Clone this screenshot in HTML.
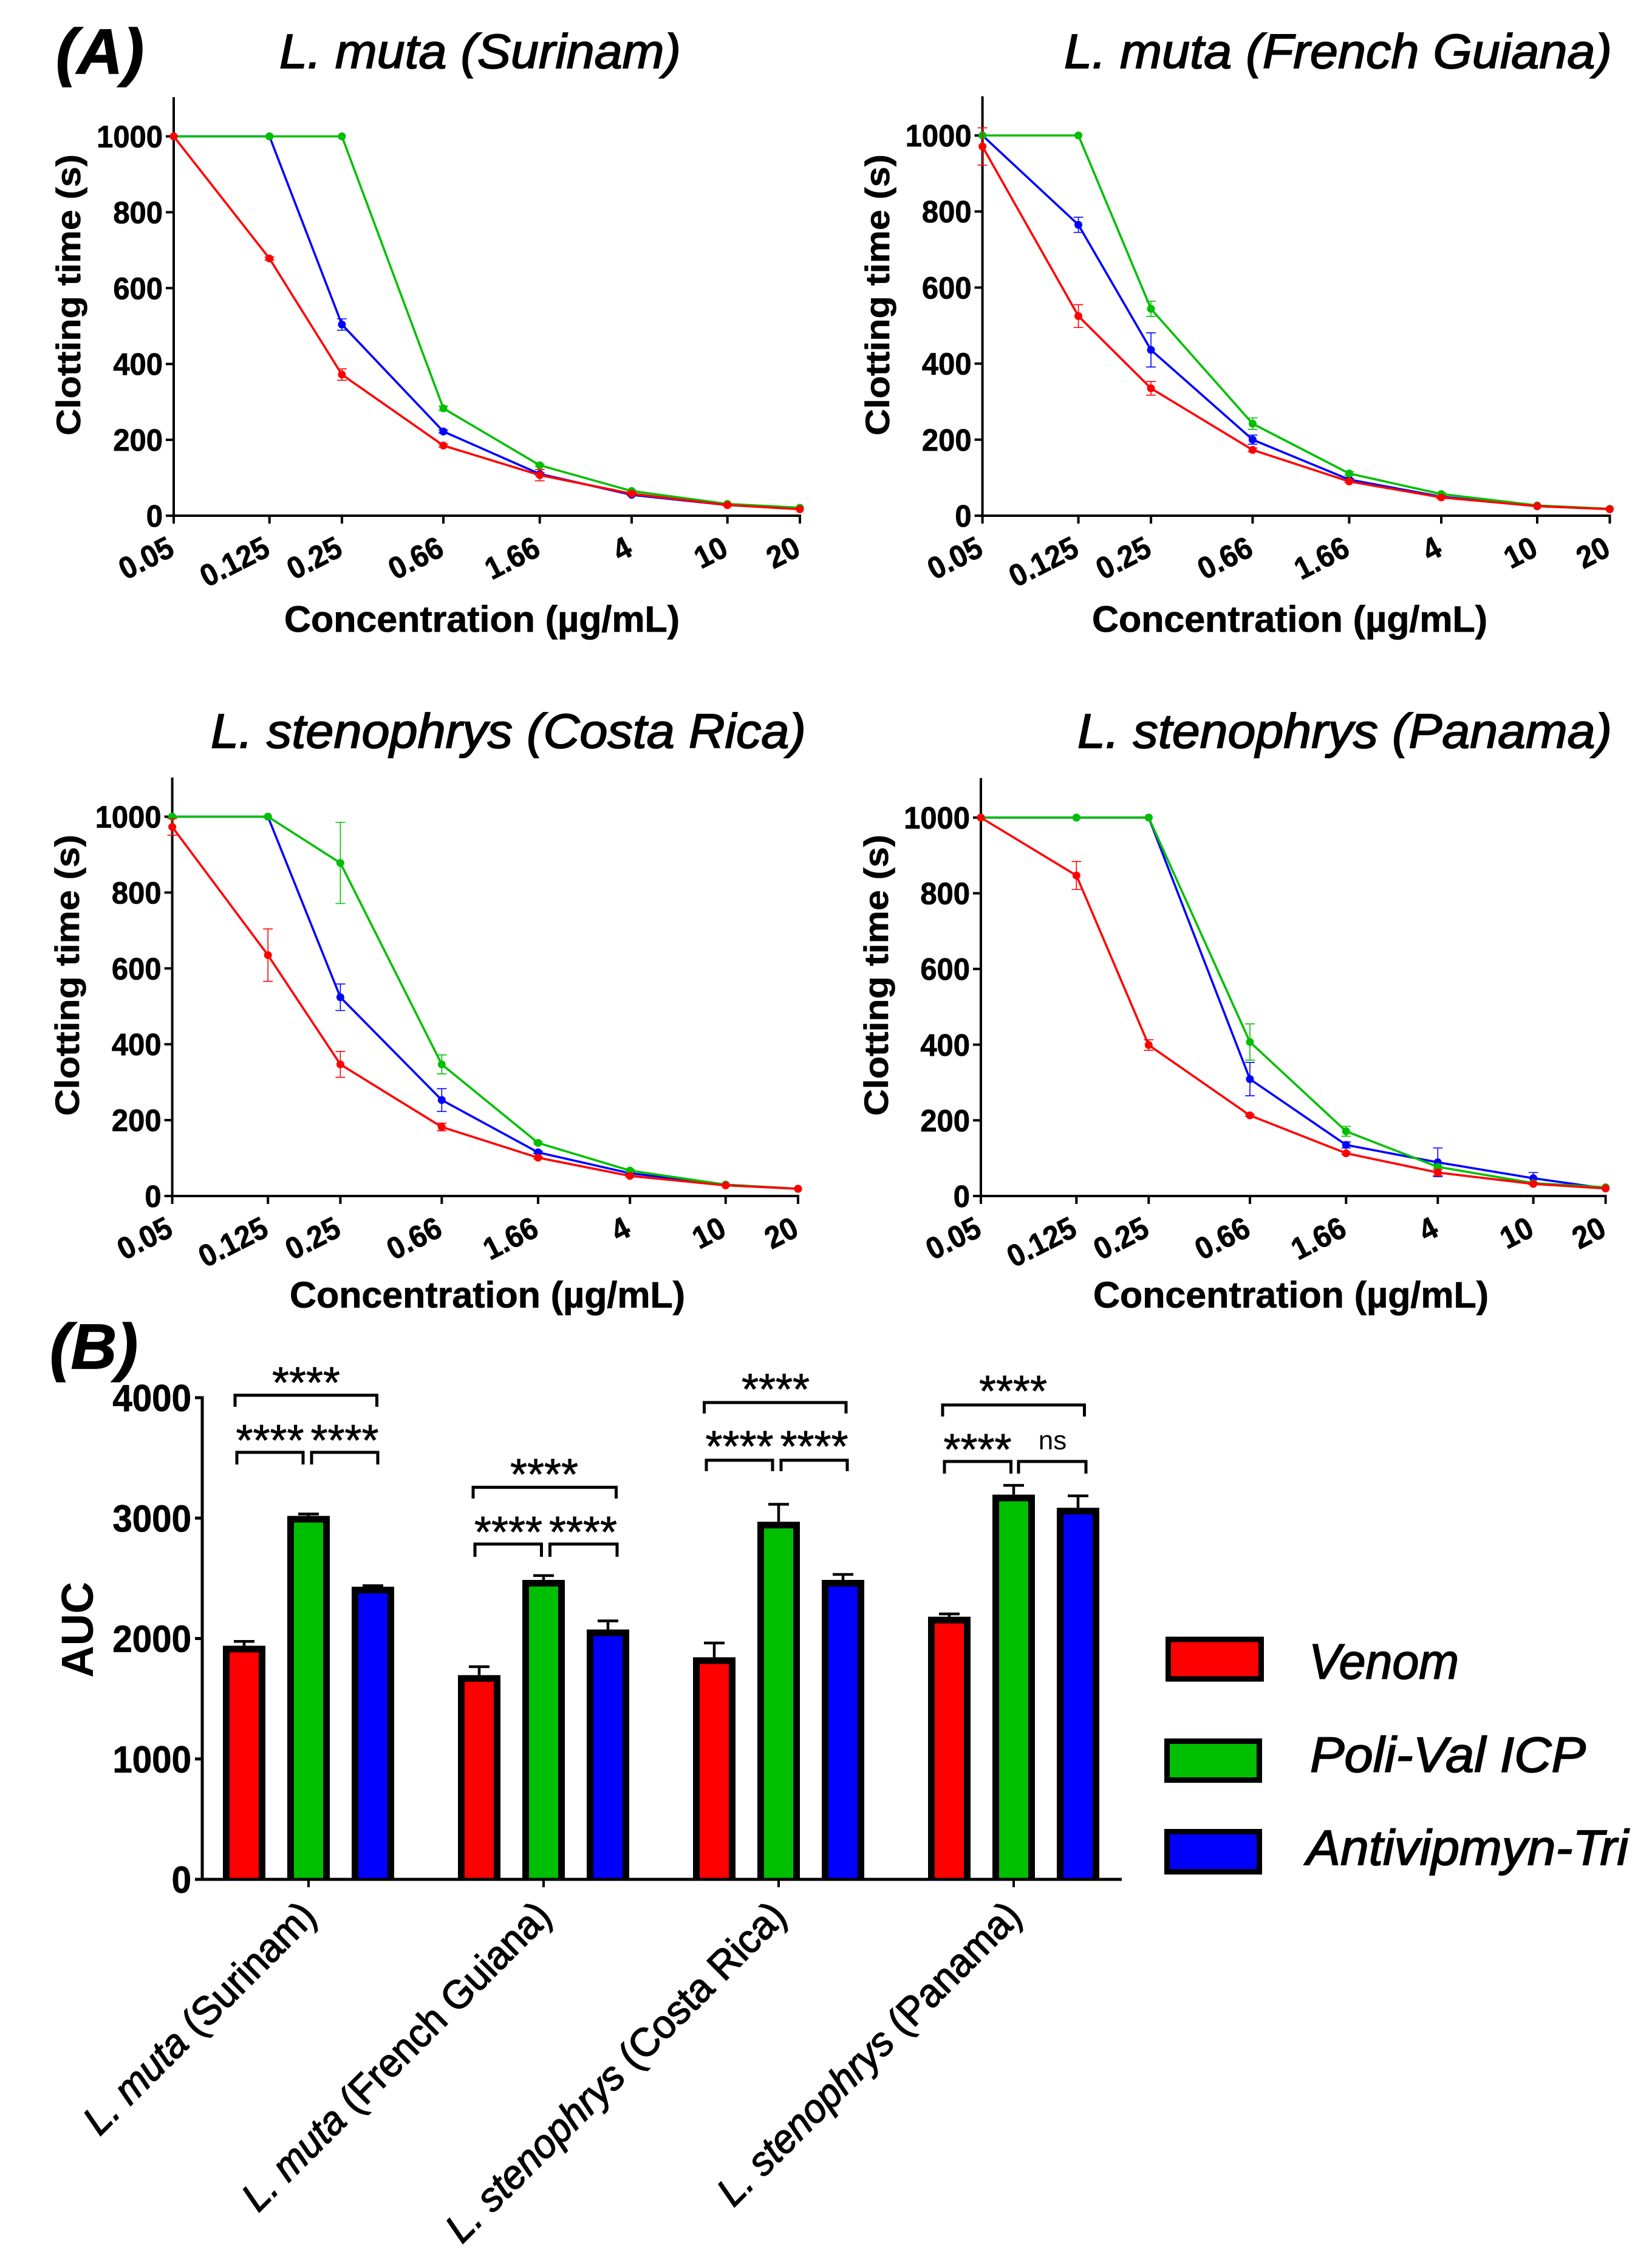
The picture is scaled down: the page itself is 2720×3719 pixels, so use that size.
<!DOCTYPE html>
<html lang="en">
<head>
<meta charset="utf-8">
<title>Clotting time and AUC by venom and antivenom</title>
<style>
html,body{margin:0;padding:0;background:#fff;}
svg{display:block;position:absolute;left:0;top:0;}
text{font-family:"Liberation Sans",Arial,sans-serif;fill:#000;}
.title{font-size:80px;font-style:italic;stroke:#000;stroke-width:1.8px;}
.panel-tag{font-size:105px;font-style:italic;font-weight:bold;stroke:#000;stroke-width:1.5px;}
.legend-text{font-size:82px;font-style:italic;stroke:#000;stroke-width:1.8px;}
.star{font-size:72px;stroke:#000;stroke-width:.8px;}
</style>
</head>
<body>
<svg id="figure" xmlns="http://www.w3.org/2000/svg" width="2720" height="3719" viewBox="0 0 2720 3719">
  <rect x="0" y="0" width="2720" height="3719" fill="#fff"/>
  <text class="panel-tag" x="92" y="121" textLength="145" lengthAdjust="spacingAndGlyphs">(A)</text>
  <text class="panel-tag" x="82" y="2253" textLength="145" lengthAdjust="spacingAndGlyphs">(B)</text>
  <text class="title" x="460" y="112" textLength="661" lengthAdjust="spacingAndGlyphs">L. muta (Surinam)</text>
  <text class="title" x="1752" y="112" textLength="902" lengthAdjust="spacingAndGlyphs">L. muta (French Guiana)</text>
  <text class="title" x="347" y="1231" textLength="980" lengthAdjust="spacingAndGlyphs">L. stenophrys (Costa Rica)</text>
  <text class="title" x="1774" y="1231" textLength="880" lengthAdjust="spacingAndGlyphs">L. stenophrys (Panama)</text>

  <g id="panels"></g>
  <g id="barchart"></g>

  <g fill="none" stroke="#000" stroke-width="5">
    <path d="M387 2316V2297H620.5V2316"/>
    <path d="M390 2411V2391H499V2411"/>
    <path d="M513 2411V2391H622V2411"/>
    <path d="M779 2467V2448.5H1014.5V2467"/>
    <path d="M782 2563V2542H891.5V2563"/>
    <path d="M905.5 2563V2542H1016V2563"/>
    <path d="M1159.5 2327V2309H1393V2327"/>
    <path d="M1163 2422V2404H1272V2422"/>
    <path d="M1286 2422V2404H1395V2422"/>
    <path d="M1552 2332V2313H1785.5V2332"/>
    <path d="M1555 2426V2406H1664.5V2426"/>
    <path d="M1677 2426V2406H1788V2426"/>
  </g>
  <g text-anchor="middle">
    <text class="star" x="504" y="2301">****</text>
    <text class="star" x="444.5" y="2396">****</text>
    <text class="star" x="567.5" y="2396">****</text>
    <text class="star" x="896" y="2452">****</text>
    <text class="star" x="837" y="2547">****</text>
    <text class="star" x="960" y="2547">****</text>
    <text class="star" x="1277" y="2312">****</text>
    <text class="star" x="1217.5" y="2406">****</text>
    <text class="star" x="1340.5" y="2406">****</text>
    <text class="star" x="1668" y="2315">****</text>
    <text class="star" x="1609.5" y="2411">****</text>
    <text x="1733" y="2386" font-size="44">ns</text>
  </g>

  <g>
    <rect x="1923.5" y="2699" width="153" height="65" fill="#ff0000" stroke="#000" stroke-width="9"/>
    <text class="legend-text" x="2155" y="2763.5" textLength="247" lengthAdjust="spacingAndGlyphs">Venom</text>
    <rect x="1921.5" y="2866.5" width="152" height="64" fill="#00bf00" stroke="#000" stroke-width="9"/>
    <text class="legend-text" x="2157" y="2917" textLength="454" lengthAdjust="spacingAndGlyphs">Poli-Val ICP</text>
    <rect x="1921.5" y="3015.5" width="152" height="66" fill="#0000ff" stroke="#000" stroke-width="9"/>
    <text class="legend-text" x="2151" y="3070" textLength="530" lengthAdjust="spacingAndGlyphs">Antivipmyn-Tri</text>
  </g>
</svg>

<script>
// ---- Clotting-time data ----
const concentrations = [0.05, 0.125, 0.25, 0.66, 1.66, 4, 10, 20];
const concentrationLabels = ['0.05', '0.125', '0.25', '0.66', '1.66', '4', '10', '20'];
const clottingTicks = [0, 200, 400, 600, 800, 1000];

const surinamVenom = [1000, 678, 372, 185, 107, 58, 28, 17];
const surinamVenomErr = [0, 4, 15, 4, 15, 3, 2, 1];
const surinamPoliVal = [1000, 1000, 1000, 283, 133, 65, 31, 21];
const surinamPoliValErr = [0, 0, 0, 6, 3, 2, 1, 1];
const surinamAntivipmyn = [1000, 1000, 504, 222, 110, 55, 28, 19];
const surinamAntivipmynErr = [0, 0, 15, 4, 3, 2, 1, 1];

const guianaVenom = [971, 525, 335, 173, 90, 48, 25, 17];
const guianaVenomErr = [49, 30, 18, 5, 3, 3, 1, 1];
const guianaPoliVal = [1000, 1000, 544, 242, 111, 57, 27, 18];
const guianaPoliValErr = [0, 0, 20, 15, 5, 3, 1, 1];
const guianaAntivipmyn = [1000, 765, 436, 200, 95, 50, 25, 18];
const guianaAntivipmynErr = [0, 20, 45, 12, 3, 2, 1, 1];

const costaRicaVenom = [973, 635, 347, 182, 101, 53, 28, 19];
const costaRicaVenomErr = [22, 69, 34, 10, 3, 3, 1, 1];
const costaRicaPoliVal = [1000, 1000, 878, 347, 140, 67, 30, 19];
const costaRicaPoliValErr = [0, 0, 107, 25, 3, 3, 1, 1];
const costaRicaAntivipmyn = [1000, 1000, 524, 253, 115, 60, 30, 19];
const costaRicaAntivipmynErr = [0, 0, 35, 30, 3, 2, 1, 1];

const panamaVenom = [1000, 847, 399, 213, 113, 62, 32, 20];
const panamaVenomErr = [0, 37, 14, 3, 3, 8, 2, 1];
const panamaPoliVal = [1000, 1000, 1000, 407, 171, 77, 34, 23];
const panamaPoliValErr = [0, 0, 0, 48, 13, 3, 2, 1];
const panamaAntivipmyn = [1000, 1000, 1000, 309, 135, 89, 47, 20];
const panamaAntivipmynErr = [0, 0, 0, 44, 8, 38, 15, 1];

// ---- AUC data ----
const aucGroups = ['L. muta (Surinam)', 'L. muta (French Guiana)', 'L. stenophrys (Costa Rica)', 'L. stenophrys (Panama)'];
const aucVenom = [1940, 1696, 1844, 2181];
const aucVenomErr = [36, 70, 119, 23];
const aucPoliVal = [3018, 2487, 2970, 3195];
const aucPoliValErr = [16, 36, 145, 77];
const aucAntivipmyn = [2430, 2075, 2487, 3086];
const aucAntivipmynErr = [9, 71, 45, 99];
const aucTicks = [0, 1000, 2000, 3000, 4000];

const RED = '#ff0000', GREEN = '#00bf00', BLUE = '#0000ff';
const SVGNS = 'http://www.w3.org/2000/svg';

function make(parent, tag, attrs, text) {
  const node = document.createElementNS(SVGNS, tag);
  for (const key in attrs) node.setAttribute(key, attrs[key]);
  if (text !== undefined) node.textContent = text;
  parent.appendChild(node);
  return node;
}

function drawPanel(root, p) {
  const g = make(root, 'g', {});
  
  

  const logMin = Math.log(concentrations[0]);
  const logMax = Math.log(concentrations[concentrations.length - 1]);
  const xScale = c => p.left + (Math.log(c) - logMin) / (logMax - logMin) * (p.right - p.left);
  const yScale = v => p.base - v / 1000 * (p.base - p.y1000);

  // y axis
  const yAxis = make(g, 'line', {x1: p.left, x2: p.left, y1: p.top, y2: p.base + 2, stroke: '#000', 'stroke-width': 4});
  
  
  clottingTicks.forEach(t => {
    const tick = make(g, 'line', {x1: p.left - 13, x2: p.left, y1: yScale(t), y2: yScale(t), stroke: '#000', 'stroke-width': 4});
    
    
    const label = make(g, 'text', {x: 0, y: 0, 'text-anchor': 'end', 'font-size': 51, 'font-weight': 'bold', stroke: '#000', 'stroke-width': 0.8, transform: 'translate(' + (p.left - 18) + ' ' + (yScale(t) + 18) + ') scale(.96 1)'}, String(t));
    
    
  });

  // x axis
  const xAxis = make(g, 'line', {x1: p.left - 2, x2: p.right + 2, y1: p.base, y2: p.base, stroke: '#000', 'stroke-width': 4});
  
  
  concentrations.forEach((c, i) => {
    const x = xScale(c);
    const tick = make(g, 'line', {x1: x, x2: x, y1: p.base, y2: p.base + 13, stroke: '#000', 'stroke-width': 4});
    
    
    const tx = x + 4, ty = p.base + 64;
    const label = make(g, 'text', {x: 0, y: 0, 'text-anchor': 'end', 'font-size': 51, 'font-weight': 'bold', stroke: '#000', 'stroke-width': 0.8, transform: 'translate(' + tx + ' ' + ty + ') rotate(-27) scale(.94 1)'}, concentrationLabels[i]);
    
    
  });

  // axis titles
  const xTitle = make(g, 'text', {x: p.xTitleX, y: p.xTitleY, 'font-size': 60, 'font-weight': 'bold', stroke: '#000', 'stroke-width': 0.8, textLength: 651, lengthAdjust: 'spacingAndGlyphs'}, 'Concentration (µg/mL)');
  
  
  const yTitle = make(g, 'text', {x: 0, y: 0, 'font-size': 56, 'font-weight': 'bold', stroke: '#000', 'stroke-width': 0.6, textLength: 463, lengthAdjust: 'spacingAndGlyphs', transform: 'translate(' + (p.yTitleX - 2) + ' ' + p.yTitleY + ') rotate(-90)'}, 'Clotting time (s)');
  
  

  // series: blue underneath, then green, then red
  const seriesList = [
    {name: 'antivipmyn', color: BLUE, values: p.blue, errors: p.blueErr},
    {name: 'poli-val', color: GREEN, values: p.green, errors: p.greenErr},
    {name: 'venom', color: RED, values: p.red, errors: p.redErr}
  ];
  seriesList.forEach(s => {
    const sg = make(g, 'g', {});
    
    
    s.values.forEach((v, i) => {
      const e = s.errors[i];
      if (e < 2) return;
      const x = xScale(concentrations[i]);
      const bar = make(sg, 'path', {
        d: 'M' + (x - 8) + ' ' + yScale(v + e) + 'H' + (x + 8) + 'M' + x + ' ' + yScale(v + e) + 'V' + yScale(v - e) + 'M' + (x - 8) + ' ' + yScale(v - e) + 'H' + (x + 8),
        fill: 'none', stroke: s.color, 'stroke-width': 1.6
      });
      
      
    });
    const pts = s.values.map((v, i) => xScale(concentrations[i]) + ',' + yScale(v)).join(' ');
    const line = make(sg, 'polyline', {points: pts, fill: 'none', stroke: s.color, 'stroke-width': 3.6, 'stroke-linejoin': 'round'});
    
    
    s.values.forEach((v, i) => {
      const dot = make(sg, 'circle', {cx: xScale(concentrations[i]), cy: yScale(v), r: 6.5, fill: s.color});
      
      
    });
  });
}

const panelRoot = document.getElementById('panels');
drawPanel(panelRoot, {id: 'muta-surinam', left: 286, right: 1317, base: 849, y1000: 224.5, top: 160,
  xTitleX: 468, xTitleY: 1040, yTitleX: 134, yTitleY: 717,
  red: surinamVenom, redErr: surinamVenomErr, green: surinamPoliVal, greenErr: surinamPoliValErr, blue: surinamAntivipmyn, blueErr: surinamAntivipmynErr});
drawPanel(panelRoot, {id: 'muta-french-guiana', left: 1617.6, right: 2650.5, base: 849, y1000: 223, top: 158.5,
  xTitleX: 1798, xTitleY: 1040, yTitleX: 1466, yTitleY: 717,
  red: guianaVenom, redErr: guianaVenomErr, green: guianaPoliVal, greenErr: guianaPoliValErr, blue: guianaAntivipmyn, blueErr: guianaAntivipmynErr});
drawPanel(panelRoot, {id: 'stenophrys-costa-rica', left: 283.6, right: 1314, base: 1969, y1000: 1344.5, top: 1280,
  xTitleX: 477, xTitleY: 2152.5, yTitleX: 132, yTitleY: 1837,
  red: costaRicaVenom, redErr: costaRicaVenomErr, green: costaRicaPoliVal, greenErr: costaRicaPoliValErr, blue: costaRicaAntivipmyn, blueErr: costaRicaAntivipmynErr});
drawPanel(panelRoot, {id: 'stenophrys-panama', left: 1615, right: 2643.6, base: 1969, y1000: 1346, top: 1281,
  xTitleX: 1800, xTitleY: 2152.5, yTitleX: 1464, yTitleY: 1837,
  red: panamaVenom, redErr: panamaVenomErr, green: panamaPoliVal, greenErr: panamaPoliValErr, blue: panamaAntivipmyn, blueErr: panamaAntivipmynErr});

// ---- Bar chart ----
(function () {
  const root = document.getElementById('barchart');
  const axisX = 333, axisRight = 1847, base = 3094, y4000 = 2301;
  const yScale = v => base - v / 4000 * (base - y4000);
  const groupCenter = i => 508 + i * 387;
  const barOffset = 106, barW = 70, sw = 11;
  const labelLengths = [509, 687, 760, 675];

  const seriesList = [
    {name: 'venom', color: RED, slot: -1, values: aucVenom, errors: aucVenomErr},
    {name: 'poli-val', color: GREEN, slot: 0, values: aucPoliVal, errors: aucPoliValErr},
    {name: 'antivipmyn', color: BLUE, slot: 1, values: aucAntivipmyn, errors: aucAntivipmynErr}
  ];

  seriesList.forEach(s => {
    s.values.forEach((v, i) => {
      const cx = groupCenter(i) + s.slot * barOffset;
      const errTop = yScale(v + s.errors[i]);
      const err = make(root, 'path', {d: 'M' + (cx - 17) + ' ' + errTop + 'H' + (cx + 17) + 'M' + cx + ' ' + errTop + 'V' + yScale(v), fill: 'none', stroke: '#000', 'stroke-width': 4.5});
      
      
      const left = cx - barW / 2 + sw / 2, right = cx + barW / 2 - sw / 2, top = yScale(v) + sw / 2;
      const bar = make(root, 'path', {d: 'M' + left + ' ' + base + 'V' + top + 'H' + right + 'V' + base, fill: s.color, stroke: '#000', 'stroke-width': sw});
      
      
    });
  });

  const yAxis = make(root, 'line', {x1: axisX, x2: axisX, y1: y4000 - 2.5, y2: base + 2.5, stroke: '#000', 'stroke-width': 5});
  
  
  const xAxis = make(root, 'line', {x1: 321, x2: axisRight, y1: base, y2: base, stroke: '#000', 'stroke-width': 5});
  
  

  aucTicks.forEach(t => {
    const tick = make(root, 'line', {x1: 321, x2: axisX, y1: yScale(t), y2: yScale(t), stroke: '#000', 'stroke-width': 5});
    
    
    const label = make(root, 'text', {x: 0, y: 0, 'text-anchor': 'end', 'font-size': 62, 'font-weight': 'bold', stroke: '#000', 'stroke-width': 0.8, transform: 'translate(315 ' + (yScale(t) + 22) + ') scale(.94 1)'}, String(t));
    
    
  });

  aucGroups.forEach((name, i) => {
    const cx = groupCenter(i);
    const tick = make(root, 'line', {x1: cx, x2: cx, y1: base, y2: base + 13, stroke: '#000', 'stroke-width': 4});
    
    
    const tx = cx + 16, ty = base + 64;
    const label = make(root, 'text', {x: tx, y: ty, 'text-anchor': 'end', 'font-size': 66, stroke: '#000', 'stroke-width': 1.5, textLength: labelLengths[i], lengthAdjust: 'spacingAndGlyphs', transform: 'rotate(-45 ' + tx + ' ' + ty + ')'});
    
    
    const split = name.indexOf(' (');
    const italic = make(label, 'tspan', {'font-style': 'italic'}, name.slice(0, split));
    
    
    const plain = make(label, 'tspan', {}, name.slice(split));
    
    
  });

  const title = make(root, 'text', {x: 0, y: 0, 'font-size': 74, 'font-weight': 'bold', textLength: 158, lengthAdjust: 'spacingAndGlyphs', transform: 'translate(153 2762) rotate(-90)'}, 'AUC');
  
  
})();
</script>
</body>
</html>
